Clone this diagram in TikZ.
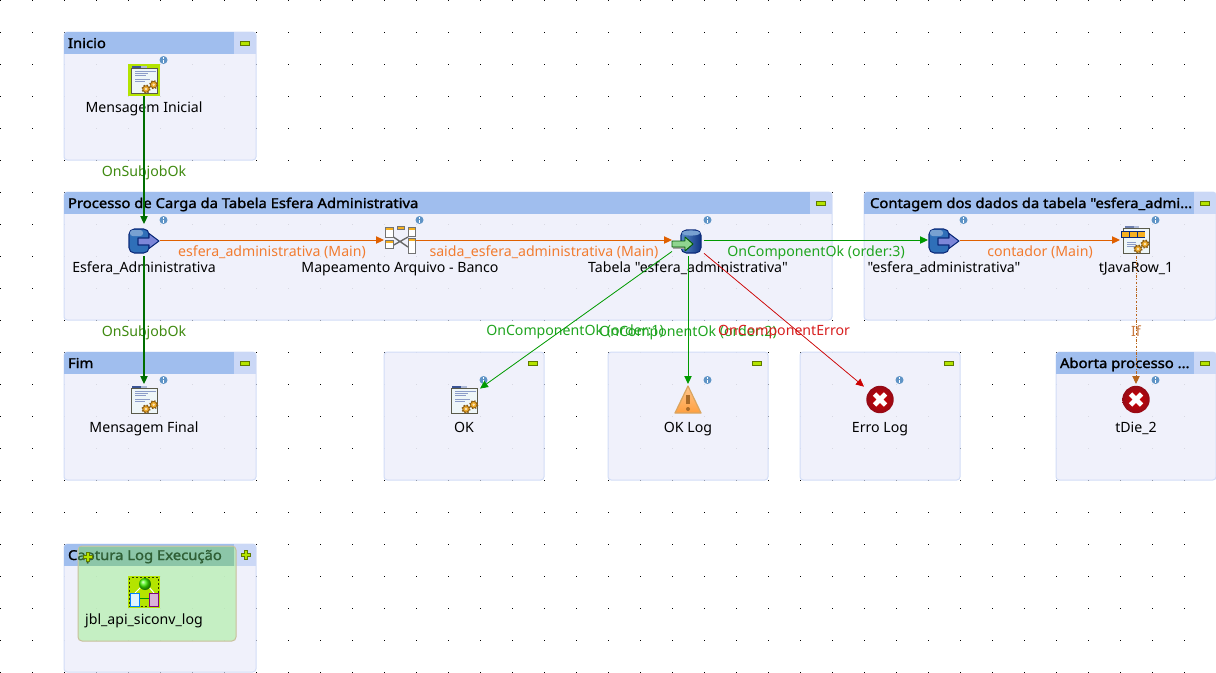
\documentclass[tikz,border=0pt]{standalone}
\usepackage{fontspec}
\setmainfont{Noto Sans}
\newfontfamily\plainface{Noto Sans}
\newfontfamily\boldface[FakeBold=1.6,FakeStretch=1.09]{Noto Sans}
\usetikzlibrary{arrows.meta,calc}
\definecolor{grpfill}{HTML}{EFF0FB}
\definecolor{grpline}{HTML}{D2DDF7}
\definecolor{hdr}{HTML}{A0BEEE}
\definecolor{hdrbtn}{HTML}{CBD8F6}
\definecolor{lime}{HTML}{B4E400}
\definecolor{limedk}{HTML}{5F7A00}
\definecolor{cdark}{HTML}{006E00}
\definecolor{cok}{HTML}{009A00}
\definecolor{cerr}{HTML}{CC0000}
\definecolor{cmain}{HTML}{E06000}
\definecolor{cif}{HTML}{B8651B}
\definecolor{tdark}{HTML}{3F8A10}
\definecolor{tok}{HTML}{1FA51F}
\definecolor{terr}{HTML}{D81E1E}
\definecolor{tmain}{HTML}{F27C30}
\definecolor{tif}{HTML}{C97A40}
\definecolor{dbblue}{HTML}{2F6FB8}
\definecolor{dbdark}{HTML}{0B2A7A}
\definecolor{dbarrow}{HTML}{7C86D8}
\definecolor{docfill}{HTML}{EEF6F8}
\definecolor{docline}{HTML}{5A5A4A}
\definecolor{docblue}{HTML}{8C9CC8}
\definecolor{gear}{HTML}{EBA828}
\definecolor{gearline}{HTML}{8A5A10}
\definecolor{info}{HTML}{5F94C6}
\definecolor{warnline}{HTML}{D9A560}
\definecolor{warnmark}{HTML}{A86A28}
\definecolor{diered}{HTML}{C40E1E}
\definecolor{overlay}{HTML}{ABEFA2}
\definecolor{ovhead}{HTML}{8CC6A8}
\definecolor{ovline}{HTML}{C8C09A}
\definecolor{ovtext}{HTML}{2F5F35}
\definecolor{maporange}{HTML}{F5B020}
\tikzset{
  x=0.75pt,y=-0.75pt,
  every node/.style={inner sep=0pt,outer sep=0pt},
  txt/.style={font=\plainface\fontsize{10.6}{12}\selectfont,text=black,anchor=base},
  ttl/.style={font=\boldface\fontsize{10.2}{12}\selectfont,text=black,anchor=base west},
  comp/.style={minimum width=24pt,minimum height=24pt,draw=none,fill=none},
  lab/.style={font=\plainface\fontsize{10.6}{12}\selectfont,anchor=base},
  grp/.style={draw=grpline,line width=.75pt,fill=grpfill,fill opacity=.9,rounded corners=2.4pt},
  conn/.style={-{Triangle[length=6pt,width=5.5pt]}},
  cdk/.style={conn,draw=cdark,line width=.85pt},
  cokk/.style={conn,draw=cok,line width=.75pt},
  cokd/.style={conn,draw=cok,line width=.6pt},
  cerror/.style={conn,draw=cerr,line width=.55pt},
  cmainln/.style={conn,draw=cmain,line width=.75pt},
  ciflink/.style={conn,draw=cif,line width=.7pt,dash pattern=on 2pt off 1pt on .8pt off 1pt},
  pics/inf/.style={code={
    \fill[info] (0,0) circle (4);
    \fill[white] (-.9,-2.6) rectangle (.9,-1.2);
    \fill[white] (-.9,-.4) rectangle (.9,2.6);
  }},
  pics/minus/.style={code={
    \draw[fill=lime,draw=limedk,line width=.6pt] (-4.5,-2) rectangle (4.5,2);
  }},
  pics/plus/.style={code={
    \draw[fill=lime,draw=limedk,line width=.6pt] (-1.7,-4.7)--(1.7,-4.7)--(1.7,-1.7)--(4.7,-1.7)--(4.7,1.7)--(1.7,1.7)--(1.7,4.7)--(-1.7,4.7)--(-1.7,1.7)--(-4.7,1.7)--(-4.7,-1.7)--(-1.7,-1.7)--cycle;
  }},
  pics/gearicon/.style={code={
    \draw[gearline,line width=1.9pt,dash pattern=on 1pt off 1pt] (0,0) circle (3.4);
    \draw[fill=gear,draw=gearline,line width=.5pt] (0,0) circle (3.3);
    \fill[white!70!gear] (0,0) circle (1.3);
  }},
  pics/doc/.style={code={
    \fill[dbdark!80] (-12,-14) rectangle (-3,-12);
    \fill[docblue!70] (-3,-14) rectangle (3,-12);
    \draw[fill=docfill,draw=docline,line width=.75pt] (-13,-12) rectangle (13,13);
    \foreach \yy/\ww in {-9/8,-7/0,-5/-2,-1/2,1/-3}{
      \draw[docblue,line width=.5pt] (-9,\yy) -- (4+\ww,\yy);}
    \pic at (2,9) {gearicon};
    \pic at (9.7,4.7) {gearicon};
  }},
  pics/dbin/.style={code={
    \draw[fill=dbblue,draw=dbdark,line width=.8pt,rounded corners=4pt] (-15,-11) rectangle (5,13);
    \fill[dbblue!65!white,rounded corners=2pt] (-14,-10) rectangle (-1,-4);
    \draw[fill=dbarrow,draw=dbdark,line width=.8pt,line join=round] (-6,-2)--(5,-2)--(5,-6.5)--(15,1)--(5,8.5)--(5,5)--(-6,5)--cycle;
  }},
  pics/dbout/.style={code={
    \draw[left color=dbblue!80!white,right color=dbdark!85!dbblue,draw=dbdark,line width=.8pt,rounded corners=4pt] (-7,-10) rectangle (13,13);
    \draw[fill=dbblue!65!white,draw=none] (3,-7) ellipse (9 and 2.6);
    \fill[gray!70] (-15,5) rectangle (-3,9);
    \draw[fill=green!45!gray!60,draw=green!35!black,line width=.7pt,line join=round] (-16,1)--(-3,1)--(-3,-3)--(5,4)--(-3,11)--(-3,7)--(-16,7)--cycle;
  }},
  pics/mapicon/.style={code={
    \draw[gray!80!black,line width=1pt] (-8,-4)--(8,7) (-8,6)--(8,-3);
    \maptbl{-15}{-13}{-7}{-3}
    \maptbl{-15}{0}{-7}{8}
    \maptbl{-3}{-14}{4}{-10.5}
    \maptbl{8}{-13}{15}{-4}
    \maptbl{8}{-2}{15}{13}
  }},
  pics/javarow/.style={code={
    \fill[dbdark!60] (-11,-14) rectangle (-2,-12);
    \fill[docblue!70] (-2,-14) rectangle (3,-12);
    \draw[fill=docfill,draw=docline,line width=.75pt] (-13,-12) rectangle (13,13);
    \fill[dbdark] (-15,-9) rectangle (9,-2);
    \foreach \xa in {-14,-6,2}{\fill[maporange] (\xa,-8) rectangle (\xa+6.5,-3);}
    \foreach \yy in {2,4,6}{\draw[docblue,line width=.5pt] (-9,\yy)--(0,\yy);}
    \pic at (2,9) {gearicon};
    \pic at (9,4) {gearicon};
  }},
  pics/warnicon/.style={code={
    \draw[top color=white!55!orange,bottom color=white!25!orange,draw=warnline,line width=.9pt,line join=round] (0,-14)--(13,13)--(-13,13)--cycle;
    \fill[warnmark] (-2,-5) rectangle (2,4);
    \fill[warnmark] (0,9) circle (2);
  }},
  pics/dieicon/.style={code={
    \shade[inner color=red!85!black,outer color=diered!75!black] (0,-.5) circle (13.7);
    \draw[white,line width=3.6pt] (-5.5,-6)--(5.5,5) (-5.5,5)--(5.5,-6);
  }},
  pics/jobicon/.style={code={
    \fill[lime] (-16,-16) rectangle (16,16);
    \draw[black!75!lime,line width=1.4pt,dash pattern=on 1.5pt off 1.5pt] (-14.5,-14.5) rectangle (14.5,14.5);
    \draw[green!60!black,line width=.75pt] (-5,6)--(5,6);
    \draw[white,line width=.75pt] (-9,1)--(-3,-5) (10,1)--(5,-5);
    \shade[ball color=green!65!lime] (1,-8) circle (6);
    \draw[fill=cyan!12,draw=blue!50!cyan,line width=.7pt] (-14,1) rectangle (-5,14);
    \draw[fill=violet!30,draw=violet,line width=.7pt] (5,1) rectangle (14,14);
  }}
}
\newcommand{\grpbox}[4]{\path[grp] (#1,#2) rectangle (#3,#4);}
\newcommand{\maptbl}[4]{%
  \draw[fill=white,draw=gray!90!black,line width=.6pt] (#1,#2) rectangle (#3,#4);
  \fill[maporange] (#1+.5,#2+.5) rectangle (#3-.5,#2+2.7);}
\newcommand{\grphead}[4]{%
  \begin{scope}
    \clip[rounded corners=2.4pt] (#1,#2) rectangle (#3,#4);
    \fill[hdr] (#1,#2) rectangle (#3-22,#2+22);
    \fill[hdrbtn] (#3-22,#2) rectangle (#3,#2+22);
  \end{scope}}
\begin{document}
\begin{tikzpicture}
\useasboundingbox (0,0) rectangle (1216,672);
\fill[white] (0,0) rectangle (1216,672);
% grid
\foreach \xx in {0,32,...,1216}{\foreach \yy in {0,32,...,672}{%
  \fill[black] (\xx-.5,\yy-.5) rectangle (\xx+.5,\yy+.5);}}
% groups
\grpbox{64}{32}{256}{160}\grphead{64}{32}{256}{160}
\grpbox{64}{192}{832}{320}\grphead{64}{192}{832}{320}
\grpbox{864}{192}{1216}{320}\grphead{864}{192}{1216}{320}
\grpbox{64}{352}{256}{480}\grphead{64}{352}{256}{480}
\grpbox{384}{352}{544}{480}
\grpbox{608}{352}{768}{480}
\grpbox{800}{352}{960}{480}
\grpbox{1056}{352}{1216}{480}\grphead{1056}{352}{1216}{480}
\grpbox{64}{544}{256}{672}\grphead{64}{544}{256}{672}
% titles
\node[ttl] (t1) at (68,48) {Inicio};
\node[ttl] (t2) at (68,208) {Processo de Carga da Tabela Esfera Administrativa};
\node[ttl] (t3) at (870,208) {Contagem dos dados da tabela "esfera\_admi...};
\node[ttl] (t4) at (68,368) {Fim};
\node[ttl] (t5) at (1060,368) {Aborta processo ...};
% collapse buttons
\pic at (245,43) {minus};
\pic at (821,203) {minus};
\pic at (1205,203) {minus};
\pic at (245,363) {minus};
\pic at (533,363) {minus};
\pic at (757,363) {minus};
\pic at (949,363) {minus};
\pic at (1205,363) {minus};
\pic at (246,555) {plus};
% joblet overlay
\draw[fill=overlay,fill opacity=.62,draw=ovline,line width=.75pt,rounded corners=3pt] (78,546) rectangle (236,641);
\fill[ovhead] (78.5,546.5) rectangle (234,566);
\node[ttl] (t6) at (68,560) {C\textcolor{ovtext}{aptura Log Execução}};
\pic at (88,557) {plus};
% components
\node[comp] (msgi) at (144,80) {};
\node[comp] (esf) at (144,240) {};
\node[comp] (map) at (400,240) {};
\node[comp] (tab) at (688,240) {};
\node[comp] (esf2) at (944,240) {};
\node[comp] (jrow) at (1136,240) {};
\node[comp] (msgf) at (144,400) {};
\node[comp] (okc) at (464,400) {};
\node[comp] (oklog) at (688,400) {};
\node[comp] (errl) at (880,400) {};
\node[comp] (die) at (1136,400) {};
\node[comp] (jbl) at (144,592) {};
% selected background
\fill[lime] (128,64) rectangle (160,96);
% icons
\pic at (msgi) {doc};
\pic at (esf) {dbin};
\pic at (map) {mapicon};
\pic at (tab) {dbout};
\pic at (esf2) {dbin};
\pic at (jrow) {javarow};
\pic at (msgf) {doc};
\pic at (okc) {doc};
\pic at (oklog) {warnicon};
\pic at (errl) {dieicon};
\pic at (die) {dieicon};
\pic at (jbl) {jobicon};
% info marks
\foreach \nn in {msgi,esf,map,tab,esf2,jrow,msgf,okc,oklog,errl,die}{
  \pic at ($(\nn)+(19.5,-20)$) {inf};}
% node labels
\node[txt] (l1) at (144,112) {Mensagem Inicial};
\node[txt] (l2) at (144,272) {Esfera\_Administrativa};
\node[txt] (l3) at (400,272) {Mapeamento Arquivo - Banco};
\node[txt] (l4) at (688,272) {Tabela "esfera\_administrativa"};
\node[txt] (l5) at (944,272) {"esfera\_administrativa"};
\node[txt] (l6) at (1136,272) {tJavaRow\_1};
\node[txt] (l7) at (144,432) {Mensagem Final};
\node[txt] (l8) at (464,432) {OK};
\node[txt] (l9) at (688,432) {OK Log};
\node[txt] (l10) at (880,432) {Erro Log};
\node[txt] (l11) at (1136,432) {tDie\_2};
\node[txt] (l12) at (144,624) {jbl\_api\_siconv\_log};
% connector labels
\node[lab,text=tdark] (c1) at (144,176) {OnSubjobOk};
\node[lab,text=tdark] (c2) at (144,336) {OnSubjobOk};
\node[lab,text=tmain] (c3) at (272,256) {esfera\_administrativa (Main)};
\node[lab,text=tmain] (c4) at (544,256) {saida\_esfera\_administrativa (Main)};
\node[lab,text=tok] (c5) at (816,256) {OnComponentOk (order:3)};
\node[lab,text=tmain] (c6) at (1040,256) {contador (Main)};
\node[lab,text=tok] (c7) at (575,335) {OnComponentOk (order:1)};
\node[lab,text=tok] (c8) at (688,336) {OnComponentOk (order:2)};
\node[lab,text=terr] (c9) at (784,335) {OnComponentError};
\node[lab,text=tif] (c10) at (1136,336) {If};
% connectors
\draw[cdk] (msgi) -- (esf);
\draw[cdk] (esf) -- (msgf);
\draw[cmainln] (esf) -- (map);
\draw[cmainln] (map) -- (tab);
\draw[cokk] (tab) -- (esf2);
\draw[cmainln] (esf2) -- (jrow);
\draw[cokd] (tab) -- (okc);
\draw[cokk] (tab) -- (oklog);
\draw[cerror] (tab) -- (errl);
\draw[ciflink] (jrow) -- (die);
\end{tikzpicture}
\end{document}
